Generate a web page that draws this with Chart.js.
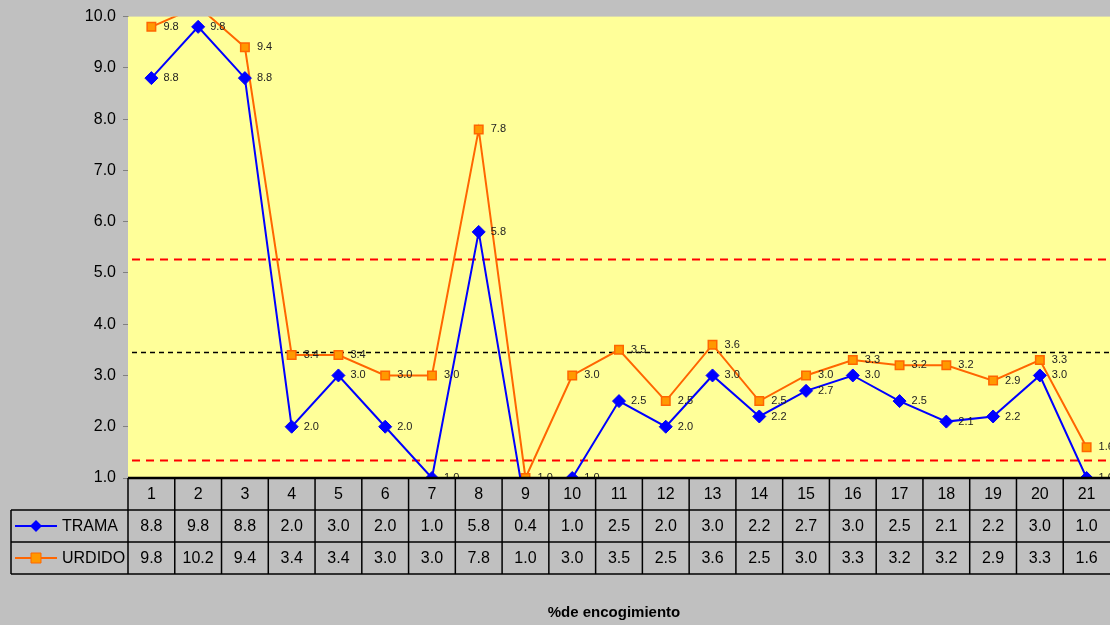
<!DOCTYPE html>
<html>
<head>
<meta charset="utf-8">
<script src="https://cdn.jsdelivr.net/npm/chart.js@4/dist/chart.umd.min.js"></script>
<style>
  html, body { margin: 0; padding: 0; background: #c0c0c0; }
  #wrap { width: 1110px; height: 625px; }
</style>
</head>
<body>
<div id="wrap"><canvas id="chart" width="1110" height="625"></canvas></div>
<script>
// categorias (muestras) y valores
const categories = ['1','2','3','4','5','6','7','8','9','10','11','12','13','14','15','16','17','18','19','20','21'];
const trama  = [8.8, 9.8, 8.8, 2.0, 3.0, 2.0, 1.0, 5.8, 0.4, 1.0, 2.5, 2.0, 3.0, 2.2, 2.7, 3.0, 2.5, 2.1, 2.2, 3.0, 1.0];
const urdido = [9.8, 10.2, 9.4, 3.4, 3.4, 3.0, 3.0, 7.8, 1.0, 3.0, 3.5, 2.5, 3.6, 2.5, 3.0, 3.3, 3.2, 3.2, 2.9, 3.3, 1.6];
const seriesNames = ['TRAMA', 'URDIDO'];
const yRange = [1, 10];
// lineas de referencia: limite superior, promedio, limite inferior
const refValues = [5.28, 3.45, 1.35];
const refKinds  = ['limit', 'mean', 'limit'];
const xTitle = '%de encogimiento';

const FONT = '"Liberation Sans", Arial, sans-serif';
const colors = {
  trama: '#0000ff',
  urdidoLine: '#ff6600',
  urdidoFill: '#ff9900',
  plot: '#ffff99'
};

// fondo amarillo del area de trazado + lineas de referencia
const plotBackground = {
  id: 'plotBackground',
  beforeDatasetsDraw(chart) {
    const { ctx, chartArea: a, scales } = chart;
    ctx.save();
    ctx.fillStyle = colors.plot;
    ctx.fillRect(a.left, a.top, a.right - a.left, a.bottom - a.top);
    refValues.forEach((v, i) => {
      const y = Math.round(scales.y.getPixelForValue(v)) + 0.5;
      ctx.beginPath();
      if (refKinds[i] === 'limit') {
        ctx.strokeStyle = '#ff0000';
        ctx.lineWidth = 2;
        ctx.setLineDash([8, 6]);
      } else {
        ctx.strokeStyle = '#000000';
        ctx.lineWidth = 1.3;
        ctx.setLineDash([5, 4]);
      }
      ctx.moveTo(a.left + 4, y);
      ctx.lineTo(a.right, y);
      ctx.stroke();
    });
    ctx.restore();
  }
};

// etiquetas de datos a la derecha de cada punto
const pointLabels = {
  id: 'pointLabels',
  afterDatasetsDraw(chart) {
    const { ctx, chartArea: a } = chart;
    ctx.save();
    ctx.beginPath();
    ctx.rect(a.left, a.top, a.right - a.left, a.bottom - a.top);
    ctx.clip();
    ctx.font = '11px ' + FONT;
    ctx.fillStyle = '#222';
    ctx.textBaseline = 'middle';
    ctx.textAlign = 'left';
    chart.data.datasets.forEach((ds, di) => {
      const meta = chart.getDatasetMeta(di);
      meta.data.forEach((pt, i) => {
        const v = ds.data[i];
        if (v < yRange[0] || v > yRange[1]) return;
        ctx.fillText(v.toFixed(1), pt.x + 12, pt.y);
      });
    });
    ctx.restore();
  }
};

// tabla de datos bajo el eje X
const dataTable = {
  id: 'dataTable',
  afterDraw(chart) {
    const { ctx, chartArea: a, scales } = chart;
    const x = scales.x;
    const colW = (a.right - a.left) / categories.length;
    const rowH = 32;
    const top = a.bottom;
    const legendLeft = 11;
    ctx.save();
    ctx.strokeStyle = '#000';
    ctx.lineWidth = 1.5;

    ctx.beginPath();
    for (let r = 1; r <= 3; r++) {
      const y = top + r * rowH;
      ctx.moveTo(legendLeft, y);
      ctx.lineTo(a.right, y);
    }
    ctx.moveTo(legendLeft, top + rowH);
    ctx.lineTo(legendLeft, top + 3 * rowH);
    for (let i = 0; i < categories.length; i++) {
      const xx = a.left + i * colW;
      ctx.moveTo(xx, top);
      ctx.lineTo(xx, top + 3 * rowH);
    }
    ctx.stroke();

    // linea del eje X
    ctx.beginPath();
    ctx.lineWidth = 2.5;
    ctx.moveTo(a.left, top);
    ctx.lineTo(a.right, top);
    ctx.stroke();

    ctx.font = '16px ' + FONT;
    ctx.fillStyle = '#000';
    ctx.textAlign = 'center';
    ctx.textBaseline = 'middle';
    categories.forEach((c, i) => {
      const cx = x.getPixelForValue(i);
      ctx.fillText(c, cx, top + rowH / 2 + 1);
      ctx.fillText(trama[i].toFixed(1), cx, top + rowH * 1.5 + 1);
      ctx.fillText(urdido[i].toFixed(1), cx, top + rowH * 2.5 + 1);
    });

    // leyenda en la tabla
    const legendRows = [
      { name: seriesNames[0], line: colors.trama, fill: colors.trama, shape: 'diamond' },
      { name: seriesNames[1], line: colors.urdidoLine, fill: colors.urdidoFill, shape: 'square' }
    ];
    legendRows.forEach((row, r) => {
      const cy = top + rowH * (1.5 + r);
      ctx.beginPath();
      ctx.strokeStyle = row.line;
      ctx.lineWidth = 2;
      ctx.moveTo(15, cy);
      ctx.lineTo(57, cy);
      ctx.stroke();
      ctx.beginPath();
      if (row.shape === 'diamond') {
        ctx.moveTo(36, cy - 6); ctx.lineTo(42, cy); ctx.lineTo(36, cy + 6); ctx.lineTo(30, cy);
        ctx.closePath();
        ctx.fillStyle = row.fill;
        ctx.fill();
      } else {
        ctx.rect(31, cy - 5, 10, 10);
        ctx.fillStyle = row.fill;
        ctx.fill();
        ctx.strokeStyle = row.line;
        ctx.lineWidth = 1;
        ctx.stroke();
      }
      ctx.fillStyle = '#000';
      ctx.textAlign = 'left';
      ctx.fillText(row.name, 62, cy + 1);
    });

    // titulo del eje
    ctx.font = 'bold 15px ' + FONT;
    ctx.textAlign = 'center';
    ctx.fillText(xTitle, 614, 613);
    ctx.restore();
  }
};

const ctx = document.getElementById('chart').getContext('2d');
const chart = new Chart(ctx, {
  type: 'line',
  data: {
    labels: categories,
    datasets: [
      {
        label: seriesNames[0],
        data: trama,
        borderColor: colors.trama,
        backgroundColor: colors.trama,
        borderWidth: 2,
        pointStyle: 'rectRot',
        pointRadius: 6.5,
        pointBorderWidth: 1,
        tension: 0,
        clip: 0
      },
      {
        label: seriesNames[1],
        data: urdido,
        borderColor: colors.urdidoLine,
        backgroundColor: colors.urdidoFill,
        borderWidth: 2,
        pointStyle: 'rect',
        pointRadius: 6,
        pointBorderWidth: 1.5,
        tension: 0,
        clip: 0
      }
    ]
  },
  options: {
    responsive: false,
    animation: false,
    layout: { autoPadding: false, padding: { top: 15, bottom: 147, left: 0, right: 0 } },
    plugins: {
      legend: { display: false },
      tooltip: { enabled: false }
    },
    scales: {
      x: {
        display: false,
        offset: true
      },
      y: {
        min: yRange[0],
        max: yRange[1],
        afterFit(scale) { scale.width = 128; },
        ticks: {
          stepSize: 1,
          padding: 7,
          color: '#000',
          font: { family: FONT, size: 16 },
          callback: v => v.toFixed(1)
        },
        grid: {
          drawOnChartArea: false,
          tickLength: 5,
          color: '#808080'
        },
        border: { color: '#8a8a60', dash: [1, 1] }
      }
    }
  },
  plugins: [plotBackground, pointLabels, dataTable]
});
</script>
</body>
</html>
